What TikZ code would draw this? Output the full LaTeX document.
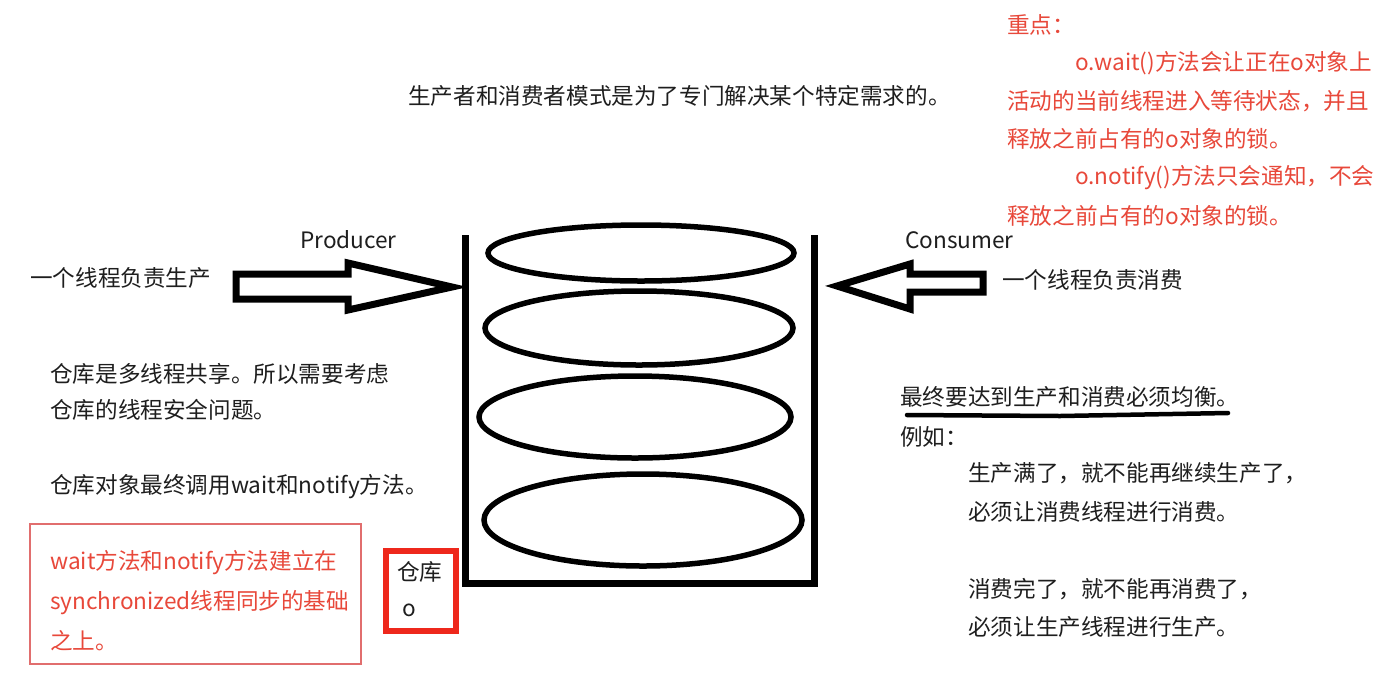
\documentclass[tikz,border=0pt]{standalone}
\usepackage{fontspec}
\setmainfont{Noto Sans CJK SC}
\definecolor{txt}{RGB}{30,30,30}
\definecolor{notered}{RGB}{232,72,58}
\definecolor{boxred}{RGB}{238,40,28}
\definecolor{thinred}{RGB}{225,110,110}
\tikzset{
  lbl/.style={anchor=west,inner sep=0pt,text=txt,font=\fontsize{22.6}{27}\selectfont},
  rlbl/.style={lbl,text=notered},
  outline/.style={draw=black,line width=7pt,line join=miter},
  disc/.style={draw=black,line width=5.5pt},
}
\begin{document}
\begin{tikzpicture}[x=1pt,y=-1pt]
\useasboundingbox[fill=white] (0,0) rectangle (1388,673);
% title
\node[lbl] (title) at (408,96) {生产者和消费者模式是为了专门解决某个特定需求的。};
% notes top right
\node[rlbl] (n1) at (1007,25) {重点：};
\node[rlbl] (n2) at (1075,63) {o.wait()方法会让正在o对象上};
\node[rlbl] (n3) at (1007,101) {活动的当前线程进入等待状态，并且};
\node[rlbl] (n4) at (1007,139) {释放之前占有的o对象的锁。};
\node[rlbl] (n5) at (1075,178) {o.notify()方法只会通知，不会};
\node[rlbl] (n6) at (1007,216) {释放之前占有的o对象的锁。};
% labels
\node[lbl] (prod) at (300,240) {Producer};
\node[lbl] (cons) at (905,240) {Consumer};
\node[lbl] (pl) at (30,278) {一个线程负责生产};
\node[lbl] (cl) at (1002,280) {一个线程负责消费};
% container
\draw[outline] (465,235) -- (465,583) -- (814,583) -- (814,235);
\draw[disc] (641,253) ellipse [x radius=153pt, y radius=28pt];
\draw[disc] (639,328) ellipse [x radius=154pt, y radius=37pt];
\draw[disc] (635,417) ellipse [x radius=156pt, y radius=41pt];
\draw[disc] (643,520) ellipse [x radius=159pt, y radius=46pt];
% producer arrow
\draw[outline] (236,274) -- (348,274) -- (348,263) -- (452,287) -- (348,310) -- (348,299) -- (236,299) -- cycle;
% consumer arrow
\draw[outline] (983,274) -- (910,274) -- (910,264) -- (837,286) -- (910,309) -- (910,292) -- (983,292) -- cycle;
% left texts
\node[lbl] (l1) at (50,374) {仓库是多线程共享。所以需要考虑};
\node[lbl] (l2) at (50,410) {仓库的线程安全问题。};
\node[lbl] (l3) at (50,487) {仓库对象最终调用wait和notify方法。};
% red note box
\draw[thinred,line width=1.5pt] (30,524) rectangle (361,664);
\node[rlbl] (r1) at (50,563) {wait方法和notify方法建立在};
\node[rlbl] (r2) at (50,603) {synchronized线程同步的基础};
\node[rlbl] (r3) at (50,641) {之上。};
% warehouse label
\draw[boxred,line width=6pt] (386,551) rectangle (456,631);
\node[lbl] (w1) at (397,572) {仓库};
\node[lbl] (w2) at (402,610) {o};
% right texts
\node[lbl] (b1) at (900,397) {最终要达到生产和消费必须均衡。};
\draw[line width=4.5pt,line cap=round] (907,415) -- (1060,416) -- (1228,413);
\node[lbl] (b2) at (900,437) {例如：};
\node[lbl] (b3) at (968,473) {生产满了，就不能再继续生产了，};
\node[lbl] (b4) at (968,512) {必须让消费线程进行消费。};
\node[lbl] (b5) at (968,589) {消费完了，就不能再消费了，};
\node[lbl] (b6) at (968,627) {必须让生产线程进行生产。};
\end{tikzpicture}
\end{document}
